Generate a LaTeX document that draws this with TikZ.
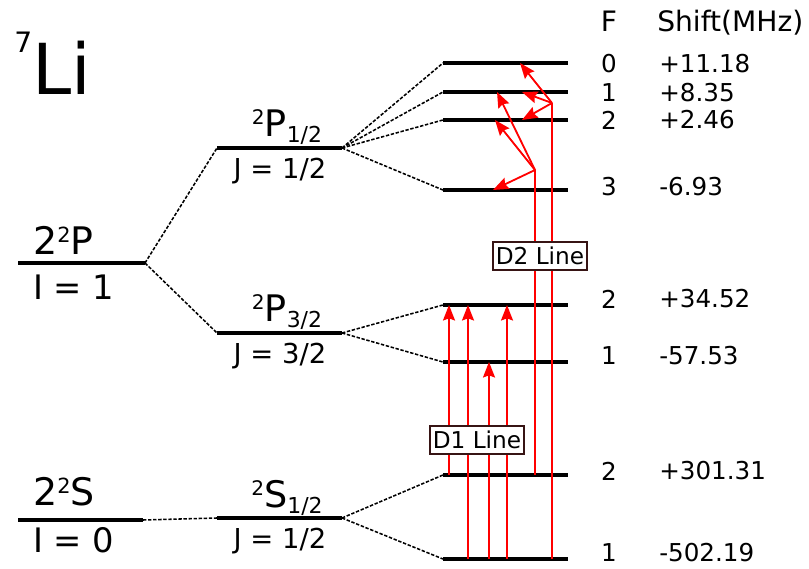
\documentclass[tikz,border=0pt]{standalone}
\usepackage{fontspec}
\setmainfont{DejaVu Sans}
\usetikzlibrary{arrows.meta}
\definecolor{beam}{RGB}{255,0,0}
\definecolor{tagline}{RGB}{55,20,20}
\newcommand\hi[1]{\raisebox{.33em}{\scalebox{.55}{#1}}}
\newcommand\lo[1]{\raisebox{-.16em}{\scalebox{.6}{#1}}}

\begin{document}
\begin{tikzpicture}[x=0.025cm, y=-0.025cm, >={Stealth[length=11pt, width=8.5pt, inset=1.5pt]},
  level/.style={line width=2.8pt},
  link/.style={line width=1.1pt, dash pattern=on 2.4pt off 1.2pt},
  photon/.style={->, beam, line width=1.3pt},
  tag/.style={draw=tagline, line width=1.2pt, fill=white, inner xsep=2pt, minimum height=19pt, font=\fontsize{16.5}{18}\selectfont},
  term/.style={inner sep=0pt, anchor=base west, font=\fontsize{27}{29}\selectfont},
  spin/.style={inner sep=0pt, anchor=base west, font=\fontsize{24}{26}\selectfont},
  fine/.style={inner sep=0pt, anchor=base, font=\fontsize{26}{28}\selectfont},
  jval/.style={inner sep=0pt, anchor=base, font=\fontsize{19.5}{21}\selectfont},
  head/.style={inner sep=0pt, anchor=base, font=\fontsize{20}{22}\selectfont},
  val/.style={inner sep=0pt, font=\fontsize{17.5}{19}\selectfont}]
  \useasboundingbox (0,0) rectangle (809,569);

  % fine structure
  \draw[level] (18,263) coordinate (Pw) -- (145,263) coordinate (Pe);
  \draw[level] (18,520) coordinate (Sw) -- (143,520) coordinate (Se);
  \draw[level] (217,148) coordinate (P1w) -- (342,148) coordinate (P1e);
  \draw[level] (217,333) coordinate (P3w) -- (342,333) coordinate (P3e);
  \draw[level] (217,518) coordinate (S1w) -- (342,518) coordinate (S1e);
  \draw[link] (Pe) -- (P1w);
  \draw[link] (Pe) -- (P3w);
  \draw[link] (Se) -- (S1w);

  % hyperfine levels
  \foreach \name/\y in {a0/63, a1/92, a2/120, a3/190, b2/305, b1/362, c2/475, c1/559}
    \draw[level] (443,\y) coordinate (\name w) -- (568,\y) coordinate (\name e);
  \foreach \f in {a0, a1, a2, a3}
    \draw[link] (P1e) -- (\f w);
  \foreach \f in {b2, b1}
    \draw[link] (P3e) -- (\f w);
  \foreach \f in {c2, c1}
    \draw[link] (S1e) -- (\f w);

  % D1 line
  \draw[photon] (449,0 |- c2w) -- (449,0 |- b2w);
  \draw[photon] (468,0 |- c1w) -- (468,0 |- b2w);
  \draw[photon] (489,0 |- c1w) -- (489,0 |- b1w);
  \draw[photon] (507,0 |- c1w) -- (507,0 |- b2w);

  % D2 line
  \coordinate (k1) at (535,170);
  \coordinate (k2) at (552,103);
  \draw[beam, line width=1.3pt] (535,0 |- c2w) -- (k1);
  \draw[beam, line width=1.3pt] (552,0 |- c1w) -- (k2);
  \foreach \f/\x in {a3/493, a2/495, a1/497}
    \draw[photon] (k1) -- (\x,0 |- \f w);
  \foreach \f/\x in {a0/520, a1/522, a2/522}
    \draw[photon] (k2) -- (\x,0 |- \f w);

  \node[tag] (d2) at (540,256) {D2 Line};
  \node[tag] (d1) at (477,440) {D1 Line};

  % labels
  \node[inner sep=0pt, anchor=base west, font=\fontsize{50}{52}\selectfont] (li) at (14,95)
    {\raisebox{30pt}{\fontsize{20}{20}\selectfont 7}Li};
  \node[term] (pname) at (33,255) {2\hi{2}P};
  \node[spin] (pspin) at (33,300) {I = 1};
  \node[term] (sname) at (33,506) {2\hi{2}S};
  \node[spin] (sspin) at (33,553) {I = 0};
  \node[fine] (p1name) at (287,137) {\hi{2}P\lo{1/2}};
  \node[jval] (p1j) at (280,179) {J = 1/2};
  \node[fine] (p3name) at (287,322) {\hi{2}P\lo{3/2}};
  \node[jval] (p3j) at (280,364) {J = 3/2};
  \node[fine] (s1name) at (287,508) {\hi{2}S\lo{1/2}};
  \node[jval] (s1j) at (280,548) {J = 1/2};

  \node[head] (fhead) at (609,32) {F};
  \node[head, anchor=base west] (shead) at (657,32) {Shift(MHz)};
  \foreach \y/\F/\v in {64/0/+11.18, 93/1/+8.35, 120/2/+2.46, 187/3/-6.93,
      299/2/+34.52, 356/1/-57.53, 471/2/+301.31, 553/1/-502.19} {
    \node[val] at (609,\y) {\F};
    \node[val, anchor=west] at (659,\y) {\v};
  }
\end{tikzpicture}
\end{document}
